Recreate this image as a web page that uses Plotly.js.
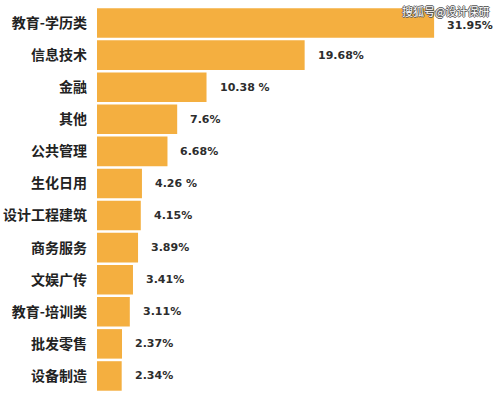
<!DOCTYPE html>
<html>
<head>
<meta charset="utf-8">
<script src="https://cdn.plot.ly/plotly-3.0.1.min.js"></script>
<style>html,body{margin:0;padding:0;background:#fff;}#chart{width:499px;height:398px;}</style>
</head>
<body>
<div id="chart"></div>
<script>
const categories = ["教育-学历类","信息技术","金融","其他","公共管理","生化日用","设计工程建筑","商务服务","文娱广传","教育-培训类","批发零售","设备制造"];
const values = [31.95, 19.68, 10.38, 7.6, 6.68, 4.26, 4.15, 3.89, 3.41, 3.11, 2.37, 2.34];
const valueLabels = ["31.95%","19.68%","10.38 %","7.6%","6.68%","4.26 %","4.15%","3.89%","3.41%","3.11%","2.37%","2.34%"];
const watermark = "搜狐号@设计保研";

const trace = {
  type: "bar",
  orientation: "h",
  x: values,
  y: categories,
  marker: {color: "#F4AF40"},
  hoverinfo: "none"
};

const annotations = values.map((v, i) => ({
  x: v, y: categories[i], xref: "x", yref: "y",
  text: valueLabels[i], showarrow: false,
  xanchor: "left", yanchor: "middle", xshift: 11, yshift: i === 0 ? -2 : 0,
  font: {family: "DejaVu Sans", size: 11, color: "#2d2d2d", weight: "bold"}
}));
annotations.push({
  xref: "paper", yref: "paper", x: 1, y: 1, xanchor: "right", yanchor: "top",
  xshift: -8, yshift: 6,
  text: watermark, showarrow: false,
  font: {family: "Noto Sans CJK SC", size: 11, color: "#ffffff",
         shadow: "1px 0 0 #555, -1px 0 0 #555, 0 1px 0 #555, 0 -1px 0 #555"}
});

const layout = {
  width: 499, height: 398,
  margin: {l: 97, r: 0, t: 7, b: 6},
  paper_bgcolor: "#ffffff", plot_bgcolor: "#ffffff",
  bargap: 0.08,
  showlegend: false,
  xaxis: {range: [0, 38.1], visible: false, fixedrange: true},
  yaxis: {
    autorange: "reversed", showline: false, showgrid: false, zeroline: false,
    ticks: "", ticklabelstandoff: 9,
    tickfont: {family: "Noto Sans CJK SC", size: 14, color: "#222222", weight: "bold"}
  },
  annotations: annotations
};

Plotly.newPlot("chart", [trace], layout, {displayModeBar: false, staticPlot: true});
</script>
</body>
</html>
